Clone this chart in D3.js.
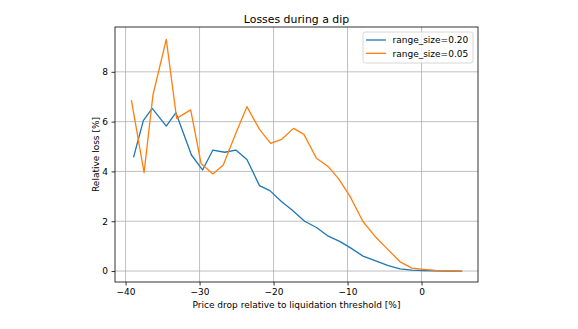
<!DOCTYPE html>
<html>
<head>
<meta charset="utf-8">
<script src="https://cdn.jsdelivr.net/npm/d3@7"></script>
<style>
  html, body { margin: 0; padding: 0; background: #fff; }
  svg { display: block; font-family: "DejaVu Sans", sans-serif; }
</style>
</head>
<body>
<svg id="chart" width="578" height="329"></svg>
<script>
// ---- data ----
const seriesNames = ["range_size=0.20", "range_size=0.05"];
const xBlue = [-38.9, -37.6, -36.4, -34.5, -33.2, -31.1, -29.6, -28.2, -26.6, -25.1, -23.6, -21.9, -20.5, -18.9, -17.5, -15.8, -14.2, -12.6, -11.0, -9.6, -7.9, -6.2, -4.5, -2.9, -1.3, 0.3, 1.9, 3.6, 5.4];
const yBlue = [4.59, 6.04, 6.53, 5.82, 6.36, 4.66, 4.06, 4.86, 4.77, 4.86, 4.48, 3.43, 3.23, 2.78, 2.45, 2.0, 1.75, 1.4, 1.18, 0.93, 0.6, 0.41, 0.22, 0.09, 0.04, 0.02, 0.01, 0.0, 0.0];
const xOrange = [-39.2, -37.5, -36.3, -34.5, -33.1, -31.2, -29.8, -28.2, -26.8, -25.0, -23.6, -21.9, -20.4, -18.9, -17.3, -15.9, -14.2, -12.6, -11.2, -9.7, -7.9, -6.3, -4.7, -2.9, -1.3, 0.3, 1.9, 3.6, 5.4];
const yOrange = [6.84, 3.95, 7.07, 9.3, 6.13, 6.47, 4.32, 3.9, 4.26, 5.6, 6.6, 5.69, 5.13, 5.29, 5.73, 5.49, 4.53, 4.19, 3.7, 3.02, 1.98, 1.4, 0.91, 0.37, 0.12, 0.07, 0.03, 0.01, 0.0];
const xTicks = [-40, -30, -20, -10, 0];
const yTicks = [0, 2, 4, 6, 8];
const colors = ["#1f77b4", "#ff7f0e"];

// ---- layout ----
const pL = 115, pR = 478, pT = 27, pB = 282;
const svg = d3.select("#chart");

const x = d3.scaleLinear().domain([-41.43, 7.63]).range([pL, pR]);
const y = d3.scaleLinear().domain([-0.44, 9.8]).range([pB, pT]);

const fmt = d => (d < 0 ? "\u2212" + Math.abs(d) : String(d));

// grid
const g = svg.append("g");
g.selectAll(".vg").data(xTicks).join("line")
  .attr("x1", d => x(d)).attr("x2", d => x(d))
  .attr("y1", pT).attr("y2", pB)
  .attr("stroke", "#b0b0b0").attr("stroke-width", 0.8);
g.selectAll(".hg").data(yTicks).join("line")
  .attr("x1", pL).attr("x2", pR)
  .attr("y1", d => y(d)).attr("y2", d => y(d))
  .attr("stroke", "#b0b0b0").attr("stroke-width", 0.8);

// axes
const xAxis = d3.axisBottom(x).tickValues(xTicks).tickFormat(fmt).tickSize(3.5).tickPadding(3.5);
const yAxis = d3.axisLeft(y).tickValues(yTicks).tickFormat(fmt).tickSize(3.5).tickPadding(3.5);
const ax = svg.append("g").attr("transform", `translate(0,${pB})`).call(xAxis);
const ay = svg.append("g").attr("transform", `translate(${pL},0)`).call(yAxis);
[ax, ay].forEach(a => {
  a.select(".domain").remove();
  a.selectAll("line").attr("stroke", "#000").attr("stroke-width", 0.8);
  a.selectAll("text").attr("font-family", "DejaVu Sans").attr("font-size", 9).attr("fill", "#000");
});

// lines
svg.append("clipPath").attr("id", "clip").append("rect")
  .attr("x", pL).attr("y", pT).attr("width", pR - pL).attr("height", pB - pT);
const line = d3.line().x(d => x(d[0])).y(d => y(d[1]));
const series = [d3.zip(xBlue, yBlue), d3.zip(xOrange, yOrange)];
series.forEach((s, i) => {
  svg.append("path").datum(s)
    .attr("d", line)
    .attr("fill", "none")
    .attr("stroke", colors[i])
    .attr("stroke-width", 1.3)
    .attr("stroke-linejoin", "round")
    .attr("stroke-linecap", "square")
    .attr("clip-path", "url(#clip)");
});

// spines
svg.append("rect").attr("x", pL).attr("y", pT)
  .attr("width", pR - pL).attr("height", pB - pT)
  .attr("fill", "none").attr("stroke", "#000").attr("stroke-width", 0.8);

// title & labels
svg.append("text").attr("x", (pL + pR) / 2).attr("y", 23)
  .attr("text-anchor", "middle").attr("font-size", 10.9).text("Losses during a dip");
svg.append("text").attr("x", (pL + pR) / 2).attr("y", 307.5)
  .attr("text-anchor", "middle").attr("font-size", 9)
  .text("Price drop relative to liquidation threshold [%]");
svg.append("text")
  .attr("transform", `translate(98.5,${(pT + pB) / 2}) rotate(-90)`)
  .attr("text-anchor", "middle").attr("font-size", 9)
  .text("Relative loss [%]");

// legend
const lg = svg.append("g");
lg.append("rect").attr("x", 363).attr("y", 32).attr("width", 110).attr("height", 31)
  .attr("rx", 2.5).attr("fill", "#fff").attr("fill-opacity", 0.8)
  .attr("stroke", "#cccccc").attr("stroke-width", 0.8);
seriesNames.forEach((n, i) => {
  const yy = 40 + i * 13.3;
  lg.append("line").attr("x1", 366).attr("x2", 386).attr("y1", yy).attr("y2", yy)
    .attr("stroke", colors[i]).attr("stroke-width", 1.3);
  lg.append("text").attr("x", 392.5).attr("y", yy + 3.2).attr("font-size", 9).text(n);
});
</script>
</body>
</html>
